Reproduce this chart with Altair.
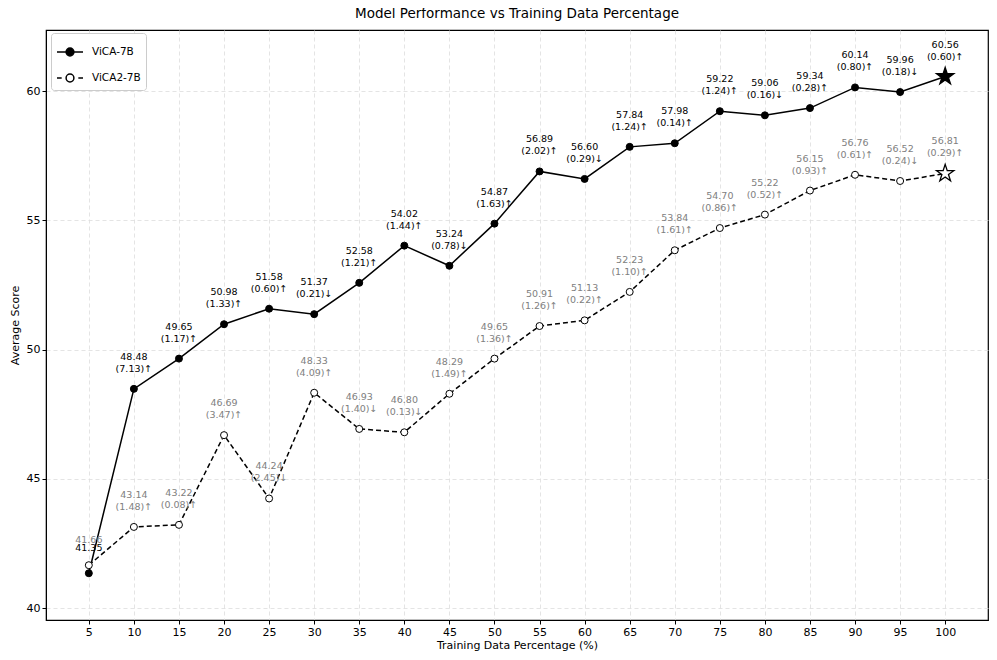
import math
import altair as alt
import pandas as pd

pct = [5, 10, 15, 20, 25, 30, 35, 40, 45, 50, 55, 60, 65, 70, 75, 80, 85, 90, 95, 100]
vica = [41.35, 48.48, 49.65, 50.98, 51.58, 51.37, 52.58, 54.02, 53.24, 54.87,
        56.89, 56.60, 57.84, 57.98, 59.22, 59.06, 59.34, 60.14, 59.96, 60.56]
vica_chg = [None, "7.13↑", "1.17↑", "1.33↑", "0.60↑", "0.21↓", "1.21↑", "1.44↑", "0.78↓", "1.63↑",
            "2.02↑", "0.29↓", "1.24↑", "0.14↑", "1.24↑", "0.16↓", "0.28↑", "0.80↑", "0.18↓", "0.60↑"]
vica2 = [41.66, 43.14, 43.22, 46.69, 44.24, 48.33, 46.93, 46.80, 48.29, 49.65,
         50.91, 51.13, 52.23, 53.84, 54.70, 55.22, 56.15, 56.76, 56.52, 56.81]
vica2_chg = [None, "1.48↑", "0.08↑", "3.47↑", "2.45↓", "4.09↑", "1.40↓", "0.13↓", "1.49↑", "1.36↑",
             "1.26↑", "0.22↑", "1.10↑", "1.61↑", "0.86↑", "0.52↑", "0.93↑", "0.61↑", "0.24↓", "0.29↑"]
series_names = ["ViCA-7B", "ViCA2-7B"]
series_fill = ["black", "white"]

rows = []
for name, vals, chgs in [(series_names[0], vica, vica_chg), (series_names[1], vica2, vica2_chg)]:
    for i, (x, v, c) in enumerate(zip(pct, vals, chgs)):
        rows.append({
            "x": x, "score": v, "series": name,
            "val": f"{v:.2f}",
            "chg": "" if c is None else "(" + c[:-1] + ")" + c[-1],
            "first": 1 if i == 0 else 0, "last": 1 if i == len(pct) - 1 else 0,
        })
df = pd.DataFrame(rows)

# marker shape paths (unit coordinates)
star_pts = []
for k in range(10):
    r = 1.0 if k % 2 == 0 else 0.382
    a = math.radians(-90 + 36 * k)
    star_pts.append(f"{r * math.cos(a):.3f},{r * math.sin(a):.3f}")
star_path = "M" + "L".join(star_pts) + "Z"
solid_path = "M-1,0L1,0M-0.3,0A0.3,0.3,0,1,0,0.3,0A0.3,0.3,0,1,0,-0.3,0Z"
dash_path = "M-1,0L-0.64,0M0.64,0L1,0M-0.3,0A0.3,0.3,0,1,0,0.3,0A0.3,0.3,0,1,0,-0.3,0Z"

xscale = alt.Scale(domain=[0.25, 104.75], nice=False, zero=False)
yscale = alt.Scale(domain=[39.54, 62.36], nice=False, zero=False)
xs = alt.X("x:Q", scale=xscale,
           axis=alt.Axis(values=pct, title="Training Data Percentage (%)", labelFlush=False))
ys = alt.Y("score:Q", scale=yscale,
           axis=alt.Axis(values=[40, 45, 50, 55, 60], title="Average Score"))

text_scale = alt.Scale(domain=series_names, range=["black", "#808080"])
leg = alt.Legend(title=None, orient="none", legendX=5, legendY=3)

base = alt.Chart(df)

layers = []
# legend-only layer: its marks sit outside the plot and are clipped away
layers.append(base.transform_filter(alt.datum.first == 1).transform_calculate(
    hidden="0"
).mark_point(
    filled=True, size=676, stroke="black", strokeWidth=1.5, opacity=1, clip=True
).encode(
    x=xs, y=alt.Y("hidden:Q", scale=yscale),
    fill=alt.Fill("series:N", scale=alt.Scale(domain=series_names, range=series_fill), legend=leg),
    shape=alt.Shape("series:N", scale=alt.Scale(domain=series_names, range=[solid_path, dash_path]),
                    legend=leg),
))

layers.append(base.transform_filter(alt.datum.series == series_names[0]).mark_line(
    color="black", strokeWidth=1.5).encode(x=xs, y=ys))
layers.append(base.transform_filter(alt.datum.series == series_names[1]).mark_line(
    color="black", strokeWidth=1.5, strokeDash=[5, 3]).encode(x=xs, y=ys))

for name, fc in zip(series_names, series_fill):
    layers.append(base.transform_filter(
        (alt.datum.series == name) & (alt.datum.last == 0)
    ).mark_point(shape="circle", filled=True, size=49, fill=fc, stroke="black",
                 strokeWidth=1, opacity=1).encode(x=xs, y=ys))
    layers.append(base.transform_filter(
        (alt.datum.series == name) & (alt.datum.last == 1)
    ).mark_point(shape=star_path, filled=True, size=330, fill=fc, stroke="black",
                 strokeWidth=1.3, opacity=1).encode(x=xs, y=ys))

tcolor = alt.Color("series:N", scale=text_scale, legend=None)
layers.append(base.transform_filter(alt.datum.first == 0).mark_text(
    fontSize=9.5, font="DejaVu Sans", dy=-32, baseline="middle"
).encode(x=xs, y=ys, text="val:N", color=tcolor))
layers.append(base.transform_filter(alt.datum.first == 0).mark_text(
    fontSize=9.5, font="DejaVu Sans", dy=-20, baseline="middle"
).encode(x=xs, y=ys, text="chg:N", color=tcolor))
layers.append(base.transform_filter(alt.datum.first == 1).mark_text(
    fontSize=9.5, font="DejaVu Sans", dy=-25, baseline="middle"
).encode(x=xs, y=ys, text="val:N", color=tcolor))

chart = alt.layer(*layers).properties(
    width=942, height=590,
    title=alt.Title("Model Performance vs Training Data Percentage", fontSize=13.5,
                    font="DejaVu Sans", fontWeight="normal", offset=10, color="black"),
    autosize=alt.AutoSizeParams(type="none"),
    padding={"left": 38, "top": 22, "right": 1, "bottom": 32},
).configure_view(stroke="black", strokeWidth=1.2).configure_axis(
    labelFont="DejaVu Sans", titleFont="DejaVu Sans", labelFontSize=11, titleFontSize=11,
    titleFontWeight="normal", labelColor="black", titleColor="black", tickColor="black",
    domainColor="black", tickSize=4, gridColor="#dddddd", gridDash=[4, 3], gridOpacity=0.8,
    labelPadding=2,
).configure_axisX(titlePadding=2).configure_axisY(titlePadding=6).configure_legend(
    strokeColor="#cccccc", fillColor="white", padding=5, cornerRadius=3,
    symbolStrokeWidth=1.5, symbolOpacity=1, symbolSize=676,
    labelFont="DejaVu Sans", labelFontSize=10.5, labelColor="black", rowPadding=5, labelOffset=8,
)

chart.save("out.html", embed_options={"renderer": "svg", "actions": False})
